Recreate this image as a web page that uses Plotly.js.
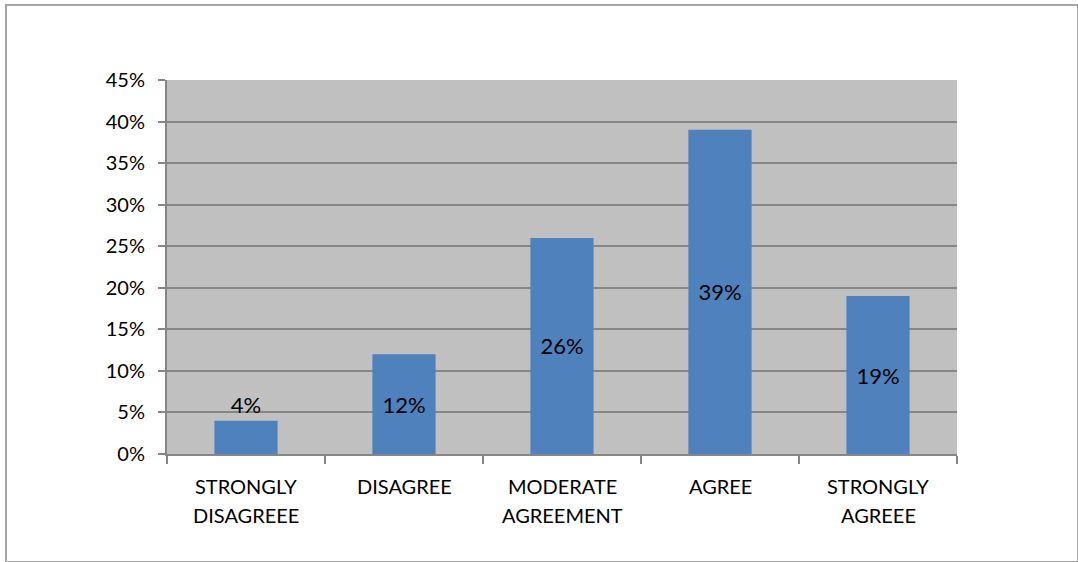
<!DOCTYPE html>
<html>
<head>
<meta charset="utf-8">
<script src="https://cdn.plot.ly/plotly-3.0.1.min.js"></script>
<style>
html,body{margin:0;padding:0;background:#fff;}
#wrap{position:relative;width:1078px;height:562px;}
#chart{position:absolute;left:0;top:0;width:1078px;height:562px;}
#frame{position:absolute;left:5px;top:4px;width:1070px;height:555px;border:2px solid #a6a6a6;pointer-events:none;}
</style>
</head>
<body>
<div id="wrap"><div id="chart"></div><div id="frame"></div></div>
<script>
const categories = ["STRONGLY<br>DISAGREEE", "DISAGREE", "MODERATE<br>AGREEMENT", "AGREE", "STRONGLY<br>AGREEE"];
const values = [0.04, 0.12, 0.26, 0.39, 0.19];
const labels = ["4%", "12%", "26%", "39%", "19%"];
const labelPositions = ["outside", "inside", "inside", "inside", "inside"];

const FONT = "Lato, 'Open Sans', sans-serif";

const trace = {
  type: "bar",
  x: categories,
  y: values,
  text: labels,
  textposition: labelPositions,
  insidetextanchor: "middle",
  textangle: 0,
  cliponaxis: false,
  constraintext: "none",
  textfont: {family: FONT, size: 22, color: "#000"},
  insidetextfont: {family: FONT, size: 22, color: "#000"},
  outsidetextfont: {family: FONT, size: 22, color: "#000"},
  marker: {color: "#4f81bd", line: {width: 0}},
  width: 0.4,
  hoverinfo: "none"
};

// category labels drawn line by line (for the wider line spacing of the original)
const annotations = [];
categories.forEach(function (c) {
  c.split("<br>").forEach(function (line, i) {
    annotations.push({
      x: c, xref: "x",
      y: 0, yref: "paper",
      yanchor: "top", xanchor: "center",
      yshift: -18 - i * 29,
      text: line,
      showarrow: false,
      font: {family: FONT, size: 20, color: "#000"}
    });
  });
});

const layout = {
  width: 1078,
  height: 562,
  margin: {l: 167, r: 121, t: 80, b: 108},
  paper_bgcolor: "#ffffff",
  plot_bgcolor: "#c0c0c0",
  showlegend: false,
  font: {family: FONT, size: 20, color: "#000"},
  annotations: annotations,
  xaxis: {
    type: "category",
    showgrid: false,
    showline: true,
    linecolor: "#868686",
    linewidth: 2,
    ticks: "outside",
    tickson: "boundaries",
    ticklen: 8,
    tickwidth: 2,
    tickcolor: "#868686",
    showticklabels: false,
    fixedrange: true
  },
  yaxis: {
    range: [0, 0.45],
    dtick: 0.05,
    tick0: 0,
    tickformat: ".0%",
    showgrid: true,
    gridcolor: "#868686",
    gridwidth: 2,
    zeroline: false,
    showline: true,
    linecolor: "#868686",
    linewidth: 2,
    ticks: "outside",
    ticklen: 7,
    tickwidth: 2,
    tickcolor: "#868686",
    tickfont: {family: FONT, size: 20, color: "#000"},
    ticklabelstandoff: 9,
    fixedrange: true
  }
};

Plotly.newPlot("chart", [trace], layout, {displayModeBar: false, staticPlot: true});
</script>
</body>
</html>
